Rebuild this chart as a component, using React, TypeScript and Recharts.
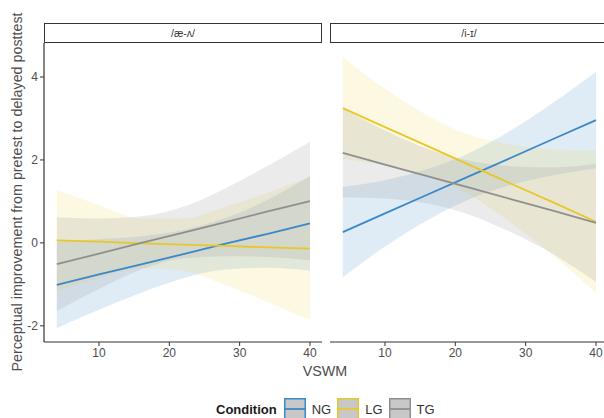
import React from 'react';
import { ComposedChart, Area, Line, XAxis, YAxis } from 'recharts';

// VSWM values where the fitted lines / bands were read
const vswm = [4, 10, 16, 22, 28, 34, 40];

// panel /æ-ʌ/
const ngFitA = [-1.01, -0.76, -0.52, -0.27, -0.02, 0.22, 0.47];
const ngLoA = [-2.05, -1.61, -1.2, -0.85, -0.64, -0.6, -0.67];
const ngHiA = [0.03, 0.09, 0.16, 0.31, 0.6, 1.04, 1.61];
const lgFitA = [0.06, 0.03, -0.01, -0.04, -0.07, -0.11, -0.14];
const lgLoA = [-1.16, -0.85, -0.61, -0.67, -1.02, -1.43, -1.86];
const lgHiA = [1.28, 0.91, 0.59, 0.59, 0.88, 1.21, 1.58];
const tgFitA = [-0.51, -0.26, 0.0, 0.25, 0.5, 0.76, 1.01];
const tgLoA = [-1.64, -1.11, -0.64, -0.37, -0.32, -0.34, -0.42];
const tgHiA = [0.62, 0.59, 0.64, 0.87, 1.32, 1.86, 2.44];

// panel /i-ɪ/
const ngFitB = [0.26, 0.71, 1.16, 1.61, 2.06, 2.51, 2.96];
const ngLoB = [-0.83, -0.09, 0.54, 1.05, 1.4, 1.63, 1.8];
const ngHiB = [1.35, 1.51, 1.78, 2.17, 2.72, 3.39, 4.12];
const lgFitB = [3.25, 2.79, 2.34, 1.88, 1.42, 0.97, 0.51];
const lgLoB = [2.02, 1.87, 1.6, 1.16, 0.47, -0.31, -1.21];
const lgHiB = [4.48, 3.71, 3.08, 2.6, 2.37, 2.25, 2.23];
const tgFitB = [2.17, 1.89, 1.61, 1.33, 1.05, 0.77, 0.48];
const tgLoB = [1.1, 1.07, 0.95, 0.68, 0.25, -0.28, -0.94];
const tgHiB = [3.24, 2.71, 2.27, 1.98, 1.85, 1.82, 1.9];

const conditions = ['NG', 'LG', 'TG'];
const colors: Record<string, string> = { NG: '#3A88C8', LG: '#E8C72A', TG: '#8F8F8F' };
const bandFill: Record<string, string> = { NG: '#3A88C8', LG: '#F2D233', TG: '#9A9A9A' };
const bandOpacity: Record<string, number> = { NG: 0.16, LG: 0.15, TG: 0.2 };

const xTicks = [10, 20, 30, 40];
const yTicks = [-2, 0, 2, 4];
const panels = ['/æ-ʌ/', '/i-ɪ/'];

const buildRows = (
  ng: number[], ngLo: number[], ngHi: number[],
  lg: number[], lgLo: number[], lgHi: number[],
  tg: number[], tgLo: number[], tgHi: number[]
) =>
  vswm.map((x, i) => ({
    x,
    NG: ng[i], NGr: [ngLo[i], ngHi[i]],
    LG: lg[i], LGr: [lgLo[i], lgHi[i]],
    TG: tg[i], TGr: [tgLo[i], tgHi[i]],
  }));

const rowsA = buildRows(ngFitA, ngLoA, ngHiA, lgFitA, lgLoA, lgHiA, tgFitA, tgLoA, tgHiA);
const rowsB = buildRows(ngFitB, ngLoB, ngHiB, lgFitB, lgLoB, lgHiB, tgFitB, tgLoB, tgHiB);

const FONT = 'Arial, "Liberation Sans", Helvetica, sans-serif';
const AXIS = '#333333';
const TICK_TEXT = { fill: '#4d4d4d', fontSize: 12, fontFamily: FONT };

function Panel({ data, showY }: { data: any[]; showY: boolean }) {
  return (
    <ComposedChart
      width={showY ? 330 : 290}
      height={390}
      data={data}
      margin={{ top: 43, right: showY ? 8 : 12, bottom: 18, left: 0 }}
    >
      <XAxis
        type="number"
        dataKey="x"
        domain={[2.18, 41.71]}
        allowDataOverflow
        ticks={xTicks}
        height={30}
        tickSize={4}
        tick={TICK_TEXT}
        axisLine={{ stroke: AXIS, strokeWidth: 1.2 }}
        tickLine={{ stroke: AXIS }}
      />
      <YAxis
        type="number"
        domain={[-2.39, 4.82]}
        allowDataOverflow
        ticks={yTicks}
        width={44}
        hide={!showY}
        tickSize={4}
        tick={TICK_TEXT}
        axisLine={{ stroke: AXIS, strokeWidth: 1.2 }}
        tickLine={{ stroke: AXIS }}
      />
      {conditions.flatMap((c) => [
        <Area
          key={c + 'band'}
          type="monotone"
          dataKey={c + 'r'}
          stroke="none"
          fill={bandFill[c]}
          fillOpacity={bandOpacity[c]}
          isAnimationActive={false}
          dot={false}
          activeDot={false}
        />,
        <Line
          key={c + 'line'}
          type="linear"
          dataKey={c}
          stroke={colors[c]}
          strokeWidth={1.8}
          dot={false}
          activeDot={false}
          isAnimationActive={false}
        />,
      ])}
    </ComposedChart>
  );
}

const stripStyle: React.CSSProperties = {
  position: 'absolute',
  top: 23,
  height: 20,
  boxSizing: 'border-box',
  border: '1.3px solid #333',
  background: '#fff',
  fontSize: 10.5,
  color: '#333',
  display: 'flex',
  alignItems: 'center',
  justifyContent: 'center',
};

export default function App() {
  return (
    <div
      style={{
        position: 'absolute',
        left: 0,
        top: 0,
        width: 604,
        height: 418,
        overflow: 'hidden',
        background: '#fff',
        fontFamily: FONT,
      }}
    >
      <div style={{ position: 'absolute', left: 0, top: 0 }}>
        <Panel data={rowsA} showY />
      </div>
      <div style={{ position: 'absolute', left: 330, top: 0 }}>
        <Panel data={rowsB} showY={false} />
      </div>

      <div style={{ ...stripStyle, left: 44, width: 278 }}>{panels[0]}</div>
      <div style={{ ...stripStyle, left: 330, width: 278 }}>{panels[1]}</div>

      <div
        style={{
          position: 'absolute',
          left: 17,
          top: 192,
          transform: 'translate(-50%, -50%) rotate(-90deg)',
          whiteSpace: 'nowrap',
          fontSize: 14.3,
          color: '#4d4d4d',
        }}
      >
        Perceptual improvement from pretest to delayed posttest
      </div>
      <div
        style={{
          position: 'absolute',
          left: 325,
          top: 371,
          transform: 'translate(-50%, -50%)',
          whiteSpace: 'nowrap',
          fontSize: 14.3,
          color: '#4d4d4d',
        }}
      >
        VSWM
      </div>

      {/* legend */}
      <div
        style={{
          position: 'absolute',
          left: 216,
          top: 398,
          height: 22,
          display: 'flex',
          alignItems: 'center',
          fontSize: 13,
          color: '#1a1a1a',
        }}
      >
        <span style={{ fontWeight: 'bold', marginRight: 7 }}>Condition</span>
        {conditions.map((c) => (
          <span key={c} style={{ display: 'flex', alignItems: 'center', marginRight: 6 }}>
            <svg width={22} height={22} style={{ display: 'block' }}>
              <rect x={0.75} y={0.75} width={20.5} height={20.5} fill="#c8c8c8" stroke={colors[c]} strokeWidth={1.5} />
              <line x1={1} x2={21} y1={11} y2={11} stroke={colors[c]} strokeWidth={1.8} />
            </svg>
            <span style={{ marginLeft: 6, color: '#333' }}>{c}</span>
          </span>
        ))}
      </div>
    </div>
  );
}
